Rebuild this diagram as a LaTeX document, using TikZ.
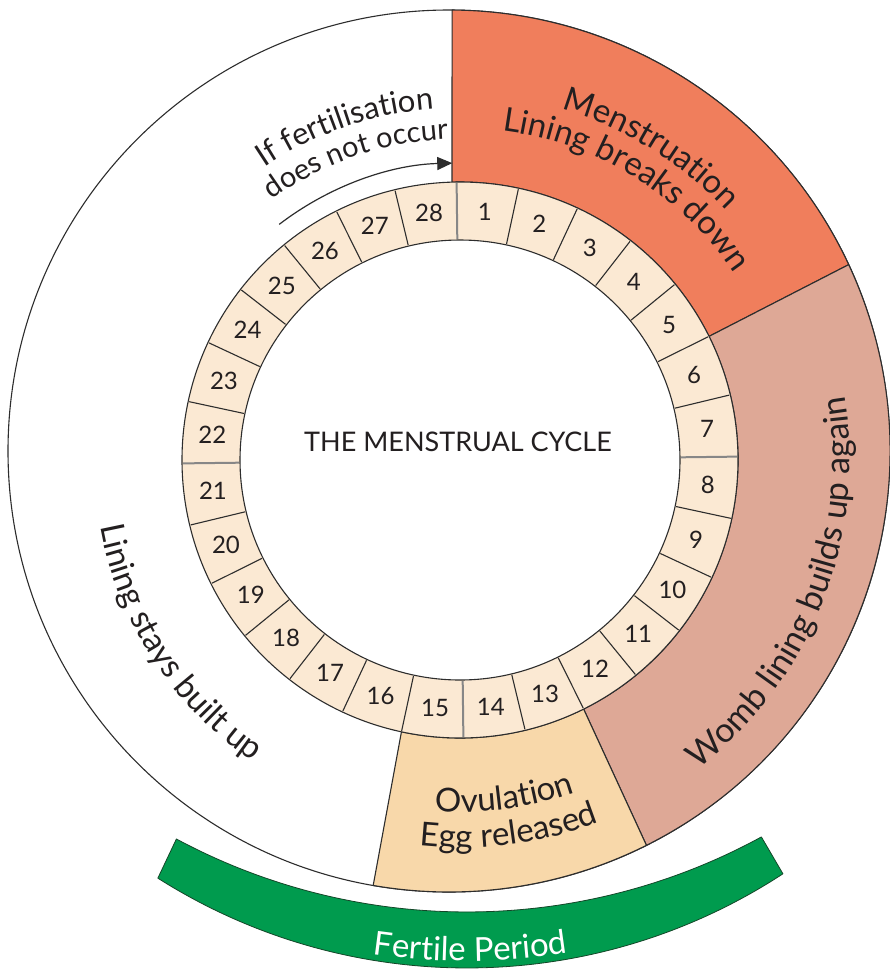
\documentclass[tikz,border=0pt]{standalone}
\usepackage{fontspec}
\setmainfont{Lato}
\usetikzlibrary{calc,decorations.text,arrows.meta}
\definecolor{menscol}{RGB}{240,126,92}
\definecolor{wombcol}{RGB}{222,168,150}
\definecolor{ovulcol}{RGB}{248,216,170}
\definecolor{ringcol}{RGB}{251,233,211}
\definecolor{fertcol}{RGB}{0,155,78}
\definecolor{fertedge}{RGB}{20,70,40}
\definecolor{linecol}{RGB}{45,45,45}
\definecolor{sepgray}{RGB}{135,135,135}
\definecolor{txtcol}{RGB}{35,31,32}
\newcommand\lblfont{\fontsize{33}{36}\selectfont}
\newcommand\wombfont{\fontsize{34}{36}\selectfont}
\newcommand\ifafont{\fontsize{31}{34}\selectfont}
\newcommand\ifbfont{\fontsize{29}{32}\selectfont}
\newcommand\numfont{\fontsize{24}{28}\selectfont}
\newcommand\ttlfont{\fontsize{27}{32}\selectfont}
\begin{document}
\begin{tikzpicture}[x=1pt,y=1pt,line join=round,
  edge/.style={draw=linecol,line width=1.1pt},
  sepn/.style={draw=linecol,line width=1.1pt},
  sepq/.style={draw=sepgray,line width=2pt},
  arctxt/.style={decorate,decoration={text along path,text align=center,text color=txtcol,text={#1}}},
  whitetxt/.style={decorate,decoration={text along path,text align=center,text color=white,text={#1}}}]
\useasboundingbox (0,0) rectangle (890,-978);
\coordinate (C) at (460,-460);
\coordinate (O) at (449,-451);
\coordinate (B1) at (467,-297);
\coordinate (B2) at (467,-391);
% outer disc
\draw[edge,fill=white] (O) circle[radius=441];
% region points
\coordinate (m1) at ($(O)+(89.6:441)$);
\coordinate (m2) at ($(C)+(91.65:278)$);
\coordinate (m3) at ($(C)+(26.4:278)$);
\coordinate (m4) at ($(O)+(25:441)$);
\coordinate (w3) at ($(C)+(-63.6:278)$);
\coordinate (w4) at ($(O)+(-63.4:441)$);
\coordinate (o3) at ($(C)+(-102.16:278)$);
\coordinate (o4) at ($(O)+(-99.9:441)$);
% menstruation
\draw[edge,fill=menscol] (m1) -- (m2) arc[start angle=91.65,end angle=26.4,radius=278]
  -- (m4) arc[start angle=25,end angle=89.6,radius=441] -- cycle;
% womb lining
\draw[edge,fill=wombcol] (m3) -- (m4) arc[start angle=25,end angle=-63.4,radius=441]
  -- (w3) arc[start angle=-63.6,end angle=26.4,radius=278] -- cycle;
% ovulation
\draw[edge,fill=ovulcol] (w3) -- (w4) arc[start angle=-63.4,end angle=-99.9,radius=441]
  -- (o4) -- (o3) arc[start angle=-102.16,end angle=-63.6,radius=278] -- cycle;
% ring
\fill[ringcol,even odd rule] (C) circle[radius=278] (C) circle[radius=220];
\draw[edge] (C) circle[radius=278];
\draw[edge] (C) circle[radius=220];
\foreach \k in {0,...,27}{
  \pgfmathtruncatemacro\q{mod(\k,7)}
  \ifnum\q=0 \def\sepst{sepq}\else\def\sepst{sepn}\fi
  \draw[\sepst] ($(C)+({90.7-\k*360/28}:221)$) -- ($(C)+({90.7-\k*360/28}:277)$);
}
\foreach \k in {1,...,28}{
  \node[font=\numfont,text=txtcol,inner sep=0pt] (day\k) at ($(C)+({90.7-(\k-0.5)*360/28}:249)$) {\k};
}
\node[font=\ttlfont,text=txtcol] (title) at (458,-442) {THE MENSTRUAL CYCLE};
% arrow
\coordinate (arrS) at ($(C)+(127.5:297)$);
\draw[linecol,line width=1.2pt,-{Triangle[length=15pt,width=13pt]}] (arrS) arc[start angle=127.5,end angle=91.5,radius=297];
% curved labels
\path[arctxt={|\ifafont|If fertilisation}] ($(C)+(144:352)$) arc[start angle=144,end angle=74,radius=352];
\path[arctxt={|\ifbfont|does not occur}] ($(C)+(144:321)$) arc[start angle=144,end angle=74,radius=321];
\path[arctxt={|\lblfont|Menstruation}] ($(C)+(98.5:365)$) arc[start angle=98.5,end angle=18.5,radius=365];
\path[arctxt={|\lblfont|Lining breaks down}] ($(C)+(98.5:332)$) arc[start angle=98.5,end angle=18.5,radius=332];
\path[arctxt={|\wombfont|Womb lining builds up again}] ($(C)+(-66.5:390)$) arc[start angle=-66.5,end angle=23.5,radius=390];
\path[arctxt={|\lblfont|Lining stays built up}] ($(C)+(173:366)$) arc[start angle=173,end angle=253,radius=366];
\path[arctxt={|\lblfont|Ovulation}] ($(C)+(-112.5:352)$) arc[start angle=-112.5,end angle=-52.5,radius=352];
\path[arctxt={|\lblfont|Egg released}] ($(C)+(-112.5:388)$) arc[start angle=-112.5,end angle=-52.5,radius=388];
% fertile band
\draw[draw=fertedge,line width=0.8pt,fill=fertcol] ($(B1)+(-118.2:615)$) arc[start angle=-118.2,end angle=-61.4,radius=615]
  -- ($(B2)+(-56.8:577)$) arc[start angle=-56.8,end angle=-122.4,radius=577] -- cycle;
\path[whitetxt={|\lblfont|Fertile Period}] ($(B1)+(-105:664)$) arc[start angle=-105,end angle=-74.4,radius=664];
\end{tikzpicture}
\end{document}
